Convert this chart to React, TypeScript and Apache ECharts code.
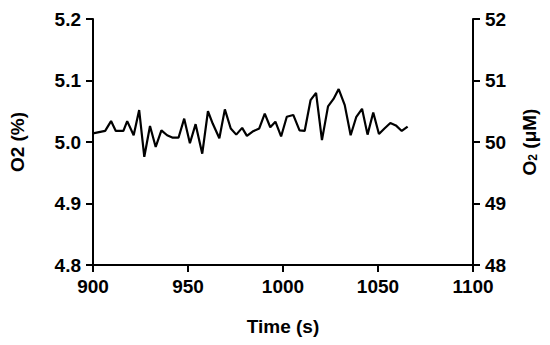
import React, { useEffect, useRef } from "react";
import * as echarts from "echarts";

const timeValues = [900, 906.4, 909.5, 912, 916, 918, 921.4, 924.3, 927, 930, 933, 936, 939, 942, 945, 948, 951, 954, 957.5, 960.5, 963, 966.5, 969.4, 972.5, 975.4, 978.5, 981, 984, 987.5, 990.4, 993.3, 996, 999, 1002, 1005.4, 1008.7, 1011.4, 1014.5, 1017.4, 1020.5, 1023.7, 1026.6, 1029.3, 1032.5, 1035.6, 1038.6, 1041.6, 1044.5, 1047.5, 1050.5, 1053.4, 1056.5, 1059.4, 1062.5, 1065.6];
const o2Values = [5.014, 5.018, 5.034, 5.018, 5.018, 5.034, 5.011, 5.052, 4.976, 5.026, 4.992, 5.019, 5.011, 5.007, 5.007, 5.038, 4.998, 5.029, 4.981, 5.05, 5.03, 5.006, 5.053, 5.022, 5.012, 5.023, 5.01, 5.017, 5.022, 5.046, 5.024, 5.033, 5.009, 5.041, 5.044, 5.019, 5.018, 5.068, 5.08, 5.003, 5.058, 5.07, 5.086, 5.06, 5.011, 5.041, 5.054, 5.012, 5.048, 5.013, 5.022, 5.031, 5.027, 5.018, 5.025];

const FONT = "'Liberation Sans', Arial, Helvetica, sans-serif";

export default function App() {
  const ref = useRef<HTMLDivElement>(null);
  useEffect(() => {
    if (!ref.current) return;
    const chart = echarts.init(ref.current, null, { renderer: "svg" });
    const axisLine = { show: true, lineStyle: { color: "#000", width: 2 } };
    const axisTick = { show: true, length: 7, lineStyle: { color: "#000", width: 2 } };
    const label = { color: "#000", fontSize: 19, fontWeight: "bold" as const, fontFamily: FONT };
    chart.setOption({
      animation: false,
      backgroundColor: "#fff",
      grid: { left: 88, right: 77, top: 19, bottom: 80, containLabel: false },
      xAxis: {
        type: "value",
        min: 900,
        max: 1100,
        interval: 50,
        name: "Time (s)",
        nameLocation: "middle",
        nameGap: 52,
        nameTextStyle: { ...label },
        axisLine,
        axisTick,
        splitLine: { show: false },
        axisLabel: { ...label, margin: 12, formatter: (v: number) => String(v) },
      },
      yAxis: [
        {
          type: "value",
          min: 4.8,
          max: 5.2,
          interval: 0.1,
          position: "left",
          name: "O2 (%)",
          nameLocation: "middle",
          nameGap: 66,
          nameRotate: 90,
          nameTextStyle: { ...label },
          axisLine,
          axisTick,
          splitLine: { show: false },
          axisLabel: { ...label, margin: 12, formatter: (v: number) => v.toFixed(1) },
        },
        {
          type: "value",
          min: 48,
          max: 52,
          interval: 1,
          position: "right",
          name: "O{sub|2} (μM)",
          nameLocation: "middle",
          nameGap: 46,
          nameRotate: 90,
          nameTextStyle: {
            ...label,
            rich: {
              sub: { fontSize: 12, fontWeight: "bold", fontFamily: FONT, color: "#000", verticalAlign: "bottom", padding: [8, 0, 0, 0] },
            },
          },
          axisLine,
          axisTick,
          splitLine: { show: false },
          axisLabel: { ...label, margin: 12 },
        },
      ],
      series: [
        {
          type: "line",
          yAxisIndex: 0,
          data: timeValues.map((t, i) => [t, o2Values[i]]),
          showSymbol: false,
          symbol: "none",
          lineStyle: { color: "#000", width: 2.2 },
        },
      ],
    });
    return () => chart.dispose();
  }, []);
  return <div ref={ref} style={{ width: 550, height: 345, position: "absolute", left: 0, top: 0 }} />;
}
